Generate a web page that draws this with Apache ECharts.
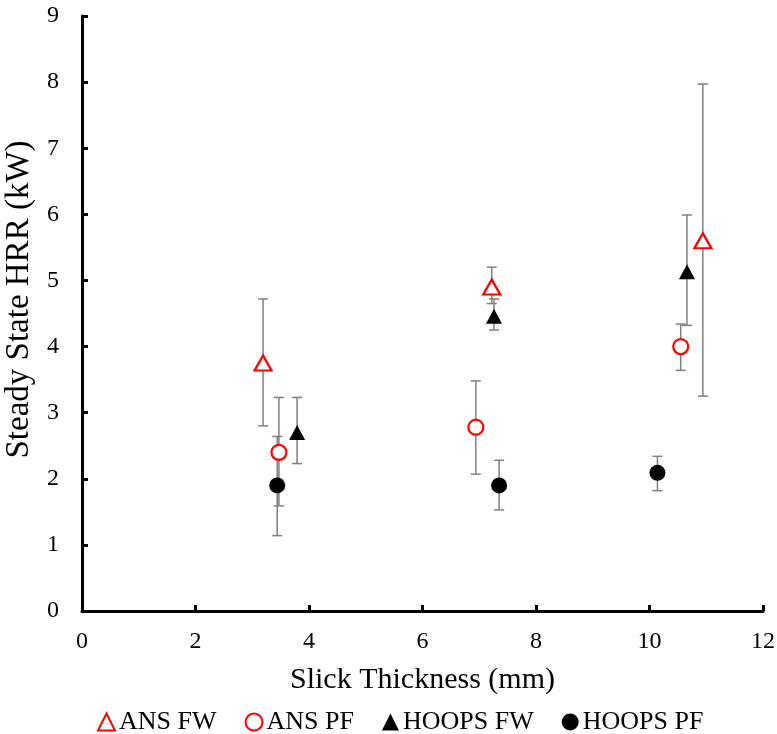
<!DOCTYPE html>
<html>
<head>
<meta charset="utf-8">
<script src="https://cdn.jsdelivr.net/npm/echarts@6/dist/echarts.min.js"></script>
<style>html,body{margin:0;padding:0;background:#fff}#c{width:777px;height:734px}</style>
</head>
<body>
<div id="c"></div>
<script>
// Data
const seriesNames = ['ANS FW', 'ANS PF', 'HOOPS FW', 'HOOPS PF'];
const ansFwX = [3.19, 7.22, 10.94];
const ansFwY = [3.75, 4.90, 5.60];
const ansFwLow = [2.80, 4.65, 3.25];
const ansFwHigh = [4.72, 5.20, 7.97];

const ansPfX = [3.47, 6.94, 10.55];
const ansPfY = [2.40, 2.78, 4.00];
const ansPfLow = [1.59, 2.07, 3.64];
const ansPfHigh = [3.23, 3.48, 4.34];

const hoopsFwX = [3.79, 7.26, 10.66];
const hoopsFwY = [2.70, 4.46, 5.13];
const hoopsFwLow = [2.23, 4.25, 4.32];
const hoopsFwHigh = [3.23, 4.72, 5.99];

const hoopsPfX = [3.44, 7.35, 10.14];
const hoopsPfY = [1.90, 1.90, 2.09];
const hoopsPfLow = [1.14, 1.53, 1.82];
const hoopsPfHigh = [2.64, 2.28, 2.34];

const xTicks = [0, 2, 4, 6, 8, 10, 12];
const yTicks = [0, 1, 2, 3, 4, 5, 6, 7, 8, 9];

const FONT = 'Liberation Serif';

function pts(xs, ys) { return xs.map((x, i) => [x, ys[i]]); }
function errs(xs, lo, hi) { return xs.map((x, i) => [x, lo[i], hi[i]]); }

function errSeries(xs, lo, hi) {
  return {
    type: 'custom',
    silent: true,
    z: 1,
    data: errs(xs, lo, hi),
    encode: { x: 0, y: [1, 2] },
    renderItem: function (params, api) {
      const x = api.value(0);
      const a = api.coord([x, api.value(1)]);
      const b = api.coord([x, api.value(2)]);
      const cw = 5;
      const st = { stroke: '#7f7f7f', lineWidth: 1.5 };
      return {
        type: 'group',
        children: [
          { type: 'line', shape: { x1: a[0], y1: a[1], x2: b[0], y2: b[1] }, style: st },
          { type: 'line', shape: { x1: a[0] - cw, y1: a[1], x2: a[0] + cw, y2: a[1] }, style: st },
          { type: 'line', shape: { x1: b[0] - cw, y1: b[1], x2: b[0] + cw, y2: b[1] }, style: st }
        ]
      };
    }
  };
}

const chart = echarts.init(document.getElementById('c'), null, { renderer: 'canvas' });
chart.setOption({
  animation: false,
  backgroundColor: '#fff',
  grid: { left: 82, right: 14, top: 16, bottom: 123, containLabel: false, outerBoundsMode: 'none' },
  xAxis: {
    type: 'value', min: xTicks[0], max: xTicks[xTicks.length - 1], interval: 2,
    name: 'Slick Thickness (mm)', nameLocation: 'middle', nameGap: 54,
    nameTextStyle: { fontFamily: FONT, fontSize: 30, color: '#000' },
    axisLine: { show: true, onZero: false, lineStyle: { color: '#000', width: 3 } },
    axisTick: { show: true, inside: true, length: 6, lineStyle: { color: '#000', width: 3 } },
    axisLabel: { fontFamily: FONT, fontSize: 24, color: '#000', margin: 19 },
    splitLine: { show: false }
  },
  yAxis: {
    type: 'value', min: yTicks[0], max: yTicks[yTicks.length - 1], interval: 1,
    name: 'Steady State HRR (kW)', nameLocation: 'middle', nameGap: 38,
    nameTextStyle: { fontFamily: FONT, fontSize: 33, color: '#000', padding: [0, 0, 0, 28] },
    axisLine: { show: true, onZero: false, lineStyle: { color: '#000', width: 3 } },
    axisTick: { show: true, inside: true, length: 6, lineStyle: { color: '#000', width: 3 } },
    axisLabel: { fontFamily: FONT, fontSize: 24, color: '#000', margin: 23 },
    splitLine: { show: false }
  },
  legend: {
    top: 704, left: 92, itemGap: 28, itemWidth: 17, itemHeight: 17,
    textStyle: { fontFamily: FONT, fontSize: 26, color: '#000', padding: [0, 0, 0, -1] },
    data: [
      { name: seriesNames[0], icon: 'triangle' },
      { name: seriesNames[1], icon: 'circle' },
      { name: seriesNames[2], icon: 'triangle' },
      { name: seriesNames[3], icon: 'circle' }
    ]
  },
  series: [
    errSeries(ansFwX, ansFwLow, ansFwHigh),
    errSeries(ansPfX, ansPfLow, ansPfHigh),
    errSeries(hoopsFwX, hoopsFwLow, hoopsFwHigh),
    errSeries(hoopsPfX, hoopsPfLow, hoopsPfHigh),
    { name: seriesNames[0], type: 'scatter', z: 5, symbol: 'triangle', symbolSize: [17, 15],
      itemStyle: { color: '#fff', borderColor: '#ff0000', borderWidth: 2.2, opacity: 1 },
      data: pts(ansFwX, ansFwY) },
    { name: seriesNames[1], type: 'scatter', z: 5, symbol: 'circle', symbolSize: 15,
      itemStyle: { color: '#fff', borderColor: '#ff0000', borderWidth: 2.2, opacity: 1 },
      data: pts(ansPfX, ansPfY) },
    { name: seriesNames[2], type: 'scatter', z: 5, symbol: 'triangle', symbolSize: [16, 15],
      itemStyle: { color: '#000', opacity: 1 },
      data: pts(hoopsFwX, hoopsFwY) },
    { name: seriesNames[3], type: 'scatter', z: 5, symbol: 'circle', symbolSize: 16,
      itemStyle: { color: '#000', opacity: 1 },
      data: pts(hoopsPfX, hoopsPfY) }
  ]
});
</script>
</body>
</html>
